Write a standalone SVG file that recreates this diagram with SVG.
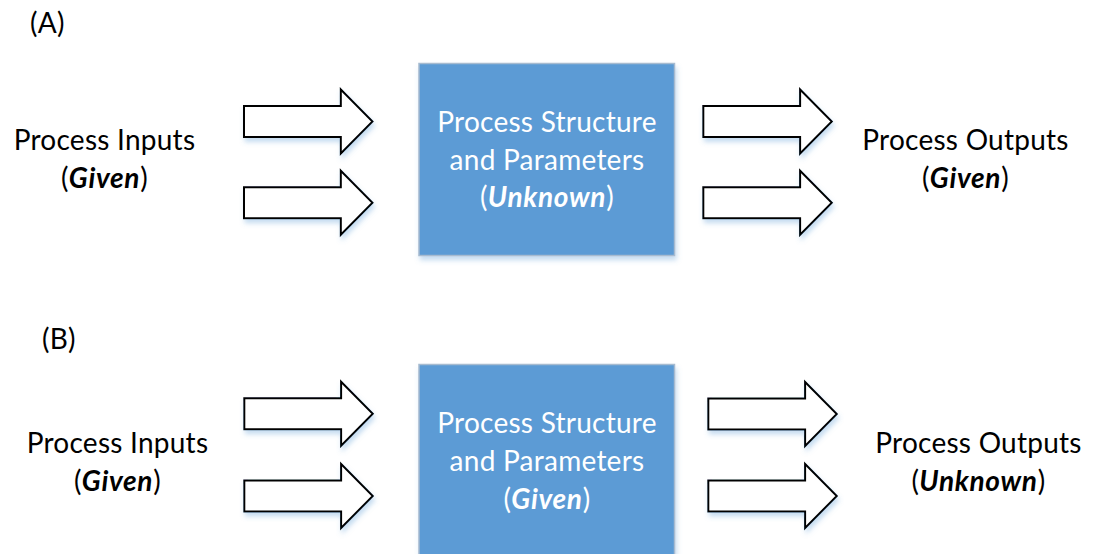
<svg xmlns="http://www.w3.org/2000/svg" xmlns:xlink="http://www.w3.org/1999/xlink" width="1096" height="554" viewBox="0 0 1096 554">
  <style>
    text { font-family: Lato, "Liberation Sans", sans-serif; font-size: 28px; fill: #000; letter-spacing: 0.25px; }
    .mid { text-anchor: middle; }
    .in-box { fill: #fff; }
    .em { font-weight: bold; font-style: italic; letter-spacing: 0.7px; }
    .box { fill: #5B9BD5; stroke: #A7BBD0; stroke-width: 1.5; }
    .arrow { fill: #fff; stroke: #000; stroke-width: 2; stroke-linejoin: miter; }
  </style>
  <defs>
    <filter id="soft-shadow" x="-20%" y="-20%" width="140%" height="150%">
      <feDropShadow dx="1.5" dy="4" stdDeviation="2.5" flood-color="#5B9BD5" flood-opacity="0.35"/>
    </filter>
    <!-- block arrow, 128.5 wide, 64 tall -->
    <path id="block-arrow" d="M0,16.5 H96.8 V0 L128.5,32 L96.8,64 V47.5 H0 Z"/>
  </defs>
  <rect width="1096" height="554" fill="#fff"/>

  <!-- Panel A -->
  <text id="label-a" x="30" y="33">(A)</text>

  <g id="a-inputs">
    <text class="mid" x="104.5" y="150">Process Inputs</text>
    <text class="mid" x="104.5" y="188">(<tspan class="em">Given</tspan>)</text>
  </g>

  <g id="a-process">
    <rect class="box" x="419" y="63.5" width="255.5" height="192" filter="url(#soft-shadow)"/>
    <text class="mid in-box" x="547" y="132">Process Structure</text>
    <text class="mid in-box" x="547" y="170">and Parameters</text>
    <text class="mid in-box" x="547" y="207">(<tspan class="em">Unknown</tspan>)</text>
  </g>

  <g id="a-outputs">
    <text class="mid" x="965.5" y="150">Process Outputs</text>
    <text class="mid" x="965.5" y="188">(<tspan class="em">Given</tspan>)</text>
  </g>

  <!-- Panel B -->
  <text id="label-b" x="42" y="349">(B)</text>

  <g id="b-inputs">
    <text class="mid" x="117.5" y="453">Process Inputs</text>
    <text class="mid" x="117.5" y="491">(<tspan class="em">Given</tspan>)</text>
  </g>

  <g id="b-process">
    <rect class="box" x="419" y="364.5" width="255.5" height="200" filter="url(#soft-shadow)"/>
    <text class="mid in-box" x="547" y="433">Process Structure</text>
    <text class="mid in-box" x="547" y="471">and Parameters</text>
    <text class="mid in-box" x="547" y="509">(<tspan class="em">Given</tspan>)</text>
  </g>

  <g id="b-outputs">
    <text class="mid" x="978.5" y="453">Process Outputs</text>
    <text class="mid" x="978.5" y="491">(<tspan class="em">Unknown</tspan>)</text>
  </g>

  <!-- Connectors: block arrows between inputs, process and outputs -->
  <g id="connectors" filter="url(#soft-shadow)">
    <use xlink:href="#block-arrow" class="arrow" x="244" y="89.5"/>
    <use xlink:href="#block-arrow" class="arrow" x="244" y="170.8"/>
    <use xlink:href="#block-arrow" class="arrow" x="703.3" y="89.5"/>
    <use xlink:href="#block-arrow" class="arrow" x="703.3" y="170.8"/>
    <use xlink:href="#block-arrow" class="arrow" x="244.3" y="381.8"/>
    <use xlink:href="#block-arrow" class="arrow" x="244.3" y="464"/>
    <use xlink:href="#block-arrow" class="arrow" x="708.3" y="382"/>
    <use xlink:href="#block-arrow" class="arrow" x="708.3" y="464"/>
  </g>
</svg>
